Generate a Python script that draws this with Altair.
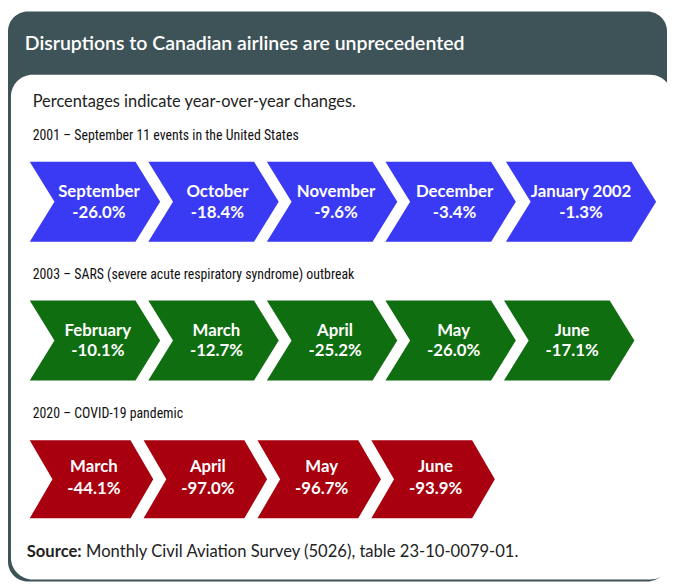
import altair as alt
import pandas as pd

# ---------------- data ----------------
TITLE = "Disruptions to Canadian airlines are unprecedented"
SUBTITLE = "Percentages indicate year-over-year changes."
SECTION_TITLES = [
    "2001 – September 11 events in the United States",
    "2003 – SARS (severe acute respiratory syndrome) outbreak",
    "2020 – COVID-19 pandemic",
]
MONTHS_2001 = ["September", "October", "November", "December", "January 2002"]
CHANGES_2001 = [-26.0, -18.4, -9.6, -3.4, -1.3]
MONTHS_2003 = ["February", "March", "April", "May", "June"]
CHANGES_2003 = [-10.1, -12.7, -25.2, -26.0, -17.1]
MONTHS_2020 = ["March", "April", "May", "June"]
CHANGES_2020 = [-44.1, -97.0, -96.7, -93.9]
SOURCE_LABEL = "Source:"
SOURCE_TEXT = "Monthly Civil Aviation Survey (5026), table 23-10-0079-01."

# ---------------- style ----------------
W, H = 667, 577
DARK = "#3e5358"
BLUE = "#3a3af5"
GREEN = "#0f6e10"
RED = "#a8000e"
TXT = "#222222"
FONT = "Lato"
NARROW = "'Roboto Condensed', 'Liberation Sans Narrow', 'Arial Narrow', 'DejaVu Sans Condensed', Lato"

# chevron outlines in pixel units (symbol size 4 -> scale 1), anchored at left edge / row middle
CHEV = "M0,-40.5 H107 L132,0 L107,40.5 H0 L25,0 Z"
CHEV_WIDE = "M2,-40.5 H129 L154,0 L129,40.5 H2 L27,0 Z"
CHEV_SMALL = "M0,-39.5 H102 L125,0 L102,39.5 H0 L23,0 Z"

X_WIDE = alt.Scale(domain=[0, 4], range=[22, 502])
X_NARROW = alt.Scale(domain=[0, 4], range=[22, 483])
Y_ROWS = alt.Scale(domain=[0, 2], range=[192.5, 473.5])


def frame(months, changes, row):
    return pd.DataFrame({
        "idx": list(range(len(months))),
        "month": months,
        "change": changes,
        "label": [f"{v:.1f}%" for v in changes],
        "row": [row] * len(months),
    })


d2001 = frame(MONTHS_2001, CHANGES_2001, 0)
d2003 = frame(MONTHS_2003, CHANGES_2003, 1)
d2020 = frame(MONTHS_2020, CHANGES_2020, 2)
dsec = pd.DataFrame({"row": [0, 1, 2], "title": SECTION_TITLES})

one = alt.Chart(pd.DataFrame({"k": [0]}))

outer = one.mark_rect(color=DARK, cornerRadius=20).encode(
    x=alt.value(0), x2=alt.value(W), y=alt.value(0), y2=alt.value(H))
inner = one.mark_rect(color="white", cornerRadius=22).encode(
    x=alt.value(3), x2=alt.value(W + 5), y=alt.value(64), y2=alt.value(H - 2))
title = one.mark_text(font=FONT, fontSize=19.7, fontWeight=600, color="white",
                      align="left", baseline="middle").encode(
    x=alt.value(17), y=alt.value(33), text=alt.value(TITLE))
subtitle = one.mark_text(font=FONT, fontSize=16.6, color=TXT,
                         align="left", baseline="middle").encode(
    x=alt.value(25), y=alt.value(92), text=alt.value(SUBTITLE))
src1 = one.mark_text(font=FONT, fontSize=16.8, fontWeight="bold", color=TXT,
                     align="left", baseline="middle").encode(
    x=alt.value(19), y=alt.value(547), text=alt.value(SOURCE_LABEL))
src2 = one.mark_text(font=FONT, fontSize=16.8, color=TXT,
                     align="left", baseline="middle").encode(
    x=alt.value(79), y=alt.value(547), text=alt.value(SOURCE_TEXT))

sections = alt.Chart(dsec).mark_text(
    font=NARROW, fontSize=14, color="#111111",
    align="left", baseline="middle", dy=-66
).encode(x=alt.value(25), y=alt.Y("row:Q", scale=Y_ROWS, axis=None), text="title:N")


def chevrons(df, path, color, xs):
    return alt.Chart(df).mark_point(
        shape=path, size=4, filled=True, color=color, opacity=1, strokeWidth=0
    ).encode(
        x=alt.X("idx:Q", scale=xs, axis=None),
        y=alt.Y("row:Q", scale=Y_ROWS, axis=None),
    )


def labels(df, xs, dx, dy1, dy2):
    base = alt.Chart(df)
    enc = dict(x=alt.X("idx:Q", scale=xs, axis=None),
               y=alt.Y("row:Q", scale=Y_ROWS, axis=None))
    a = base.mark_text(font=FONT, fontSize=17, fontWeight="bold", color="white",
                       align="center", baseline="middle", dx=dx, dy=dy1).encode(text="month:N", **enc)
    b = base.mark_text(font=FONT, fontSize=17, fontWeight="bold", color="white",
                       align="center", baseline="middle", dx=dx, dy=dy2).encode(text="label:N", **enc)
    return [a, b]


d2001_main = d2001[d2001.idx < 4]
d2001_last = d2001[d2001.idx == 4]

layers = [outer, inner, title, subtitle, sections, src1, src2,
          chevrons(d2001_main, CHEV, BLUE, X_WIDE),
          chevrons(d2001_last, CHEV_WIDE, BLUE, X_WIDE),
          chevrons(d2003, CHEV, GREEN, X_WIDE),
          chevrons(d2020, CHEV_SMALL, RED, X_NARROW)]
layers += labels(d2001_main, X_WIDE, 70, -10, 12)
layers += labels(d2001_last, X_WIDE, 78, -10, 12)
layers += labels(d2003, X_WIDE, 69, -10, 11)
layers += labels(d2020, X_NARROW, 65, -12, 10)

chart = alt.layer(*layers).resolve_scale(x="independent", y="shared").properties(
    width=W, height=H, autosize=alt.AutoSizeParams(type="none"), padding=0,
    background="white",
).configure_view(stroke=None)

chart.save("out.html", embed_options={"renderer": "svg", "actions": False})
